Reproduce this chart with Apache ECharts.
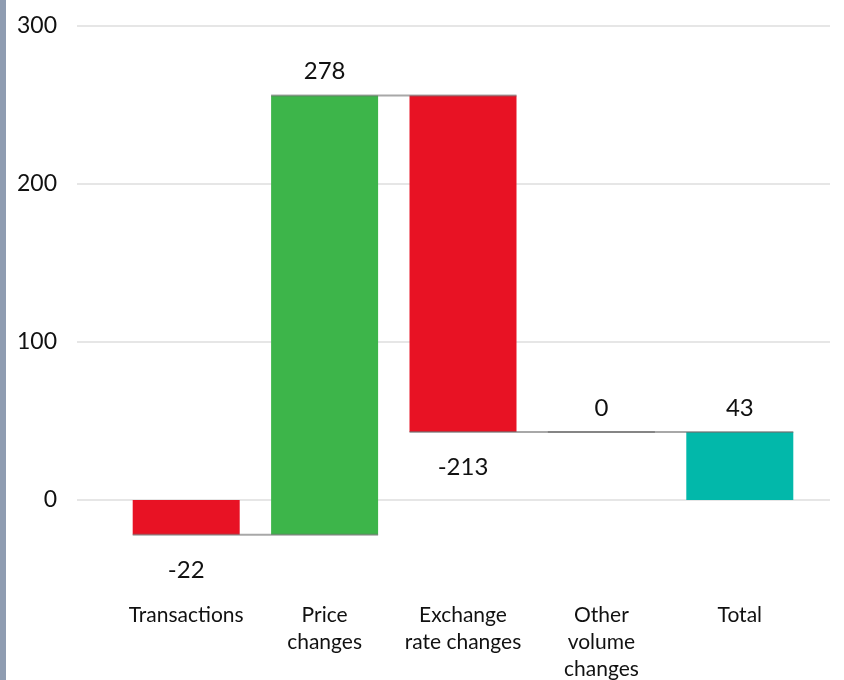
<!DOCTYPE html>
<html>
<head>
<meta charset="utf-8">
<script src="https://cdn.jsdelivr.net/npm/echarts@6/dist/echarts.min.js"></script>
<style>
  html, body { margin: 0; padding: 0; background: #fff; }
  #main { width: 844px; height: 680px; }
</style>
</head>
<body>
<div id="main"></div>
<script>
// waterfall data
const categories = ['Transactions', 'Price\nchanges', 'Exchange\nrate changes', 'Other\nvolume\nchanges', 'Total'];
const changes = [-22, 278, -213, 0];
const total = 43;
const yTicks = [0, 100, 200, 300];

const RED = '#e81224', GREEN = '#3db54a', TEAL = '#02b8aa';
const FONT = 'Lato';

// running totals -> floating bars
let running = 0;
const baseVals = [], heightVals = [], labelVals = [], colors = [], levels = [];
changes.forEach(function (c) {
  const start = running, end = running + c;
  baseVals.push(Math.min(start, end));
  heightVals.push(Math.abs(c));
  labelVals.push(c);
  colors.push(c < 0 ? RED : GREEN);
  levels.push(end);
  running = end;
});
baseVals.push(0);
heightVals.push(total);
labelVals.push(total);
colors.push(TEAL);

const chart = echarts.init(document.getElementById('main'));
const BAR_W = 107;

chart.setOption({
  animation: false,
  graphic: [{ type: 'rect', left: 0, top: 0, shape: { width: 6, height: 680 }, style: { fill: '#8f9cb1' } }],
  grid: [
    { left: 77, right: 14, top: 26, bottom: 180, outerBoundsMode: 'none' },
    { left: 117, right: 35, top: 26, bottom: 82, outerBoundsMode: 'none' }
  ],
  xAxis: [
    { gridIndex: 0, type: 'value', show: false },
    {
      gridIndex: 1, type: 'category', data: categories,
      axisLine: { show: false }, axisTick: { show: false },
      axisLabel: { interval: 0, margin: 4, color: '#111', fontFamily: FONT, fontSize: 21, lineHeight: 27 }
    }
  ],
  yAxis: [
    {
      gridIndex: 0, type: 'value', min: yTicks[0], max: yTicks[yTicks.length - 1], interval: 100,
      axisLine: { show: false }, axisTick: { show: false },
      axisLabel: { margin: 20, color: '#111', fontFamily: FONT, fontSize: 23 },
      splitLine: { lineStyle: { color: '#e6e6e6', width: 2 } }
    },
    { gridIndex: 1, type: 'value', min: -62, max: 300, show: false }
  ],
  series: [
    {
      type: 'bar', xAxisIndex: 1, yAxisIndex: 1, stack: 'wf', stackStrategy: 'all',
      barWidth: BAR_W, itemStyle: { color: 'transparent' }, data: baseVals, silent: true
    },
    {
      type: 'bar', xAxisIndex: 1, yAxisIndex: 1, stack: 'wf', stackStrategy: 'all',
      barWidth: BAR_W,
      data: heightVals.map(function (h, i) {
        const neg = labelVals[i] < 0;
        return {
          value: h,
          itemStyle: { color: colors[i] },
          label: { position: neg ? 'bottom' : 'top', distance: neg ? 23 : 12 }
        };
      }),
      label: {
        show: true, color: '#111', fontFamily: FONT, fontSize: 24,
        formatter: function (p) { return String(labelVals[p.dataIndex]); }
      }
    },
    {
      // connectors: level after bar i, spanning bar i and bar i+1
      type: 'custom', xAxisIndex: 1, yAxisIndex: 1, z: 5,
      data: levels.map(function (v, i) { return [i, v]; }),
      renderItem: function (params, api) {
        const i = api.value(0), v = api.value(1);
        const a = api.coord([i, v]);
        const b = api.coord([i + 1, v]);
        return {
          type: 'line',
          shape: { x1: a[0] - BAR_W / 2, y1: a[1], x2: b[0] + BAR_W / 2, y2: b[1] },
          style: { stroke: 'rgba(110,110,110,0.6)', lineWidth: 2 }
        };
      }
    }
  ]
});
</script>
</body>
</html>
